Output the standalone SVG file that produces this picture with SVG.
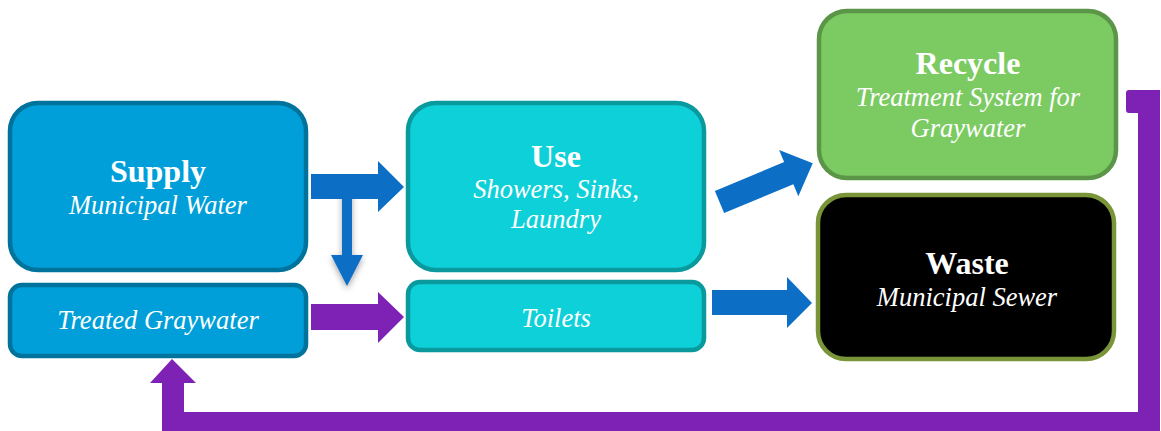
<svg xmlns="http://www.w3.org/2000/svg" width="1161" height="431" viewBox="0 0 1161 431">
<defs>
<style>
.box{stroke-width:4.5}
.blue{fill:#009fd9;stroke:#00739c}
.cyan{fill:#0ed0d9;stroke:#0a9a9e}
.green{fill:#7cca62;stroke:#5b9548}
.black{fill:#000000;stroke:#7a9538}
.t{font-family:"Liberation Serif","Times New Roman",serif;fill:#ffffff;text-anchor:middle}
.h{font-size:32px;font-weight:bold}
.s{font-size:26.5px;font-style:italic}
.ab{fill:#0d6ec6}
.ap{fill:#7e22b6}
</style>
<filter id="sh" x="-50%" y="-20%" width="200%" height="160%">
<feDropShadow dx="0" dy="3" stdDeviation="3" flood-color="#000" flood-opacity="0.35"/>
</filter>
</defs>
<g id="connectors">
<polygon class="ab" filter="url(#sh)" points="342,189 352,189 352,255 363,255 347,286 331,255 342,255"/>
<polygon class="ab" points="311,174 378,174 378,161 404,187 378,212 378,199 311,199"/>
<polygon class="ap" points="311,304 378,304 378,292 404,317 378,343 378,330 311,330"/>
<polygon class="ab" transform="translate(719.5,202) rotate(-22.6)" points="0,-12 75,-12 75,-25 101,0 75,25 75,12 0,12"/>
<polygon class="ab" points="712,290 787,290 787,277 812,303 787,328 787,315 712,315"/>
<path class="ap" d="M1129,90 L1160,90 L1160,431 L162,431 L162,383 L150,383 L172,359 L196,383 L184,383 L184,412 L1138,412 L1138,113 L1129,113 Q1126,113 1126,110 L1126,93 Q1126,90 1129,90 Z"/>
</g>
<g id="supply">
<rect class="box blue" x="10" y="103" width="296" height="167" rx="28"/>
<text class="t h" x="158" y="182">Supply</text>
<text class="t s" x="158" y="214">Municipal Water</text>
</g>
<g id="treated">
<rect class="box blue" x="10" y="285" width="296" height="71" rx="12"/>
<text class="t s" x="158" y="329">Treated Graywater</text>
</g>
<g id="use">
<rect class="box cyan" x="408" y="103" width="296" height="167" rx="28"/>
<text class="t h" x="556" y="167">Use</text>
<text class="t s" x="556" y="198">Showers, Sinks,</text>
<text class="t s" x="556" y="228">Laundry</text>
</g>
<g id="toilets">
<rect class="box cyan" x="408" y="282" width="296" height="68" rx="12"/>
<text class="t s" x="556" y="327">Toilets</text>
</g>
<g id="recycle">
<rect class="box green" x="819" y="11" width="297" height="167" rx="28"/>
<text class="t h" x="968" y="74">Recycle</text>
<text class="t s" x="968" y="106">Treatment System for</text>
<text class="t s" x="968" y="137">Graywater</text>
</g>
<g id="waste">
<rect class="box black" x="818" y="195" width="296" height="164" rx="28"/>
<text class="t h" x="967" y="274">Waste</text>
<text class="t s" x="967" y="306">Municipal Sewer</text>
</g>
</svg>
